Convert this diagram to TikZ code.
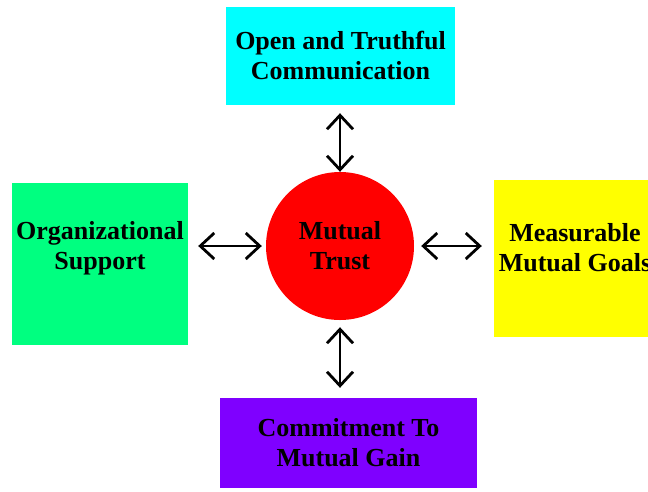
\documentclass[tikz,border=0pt]{standalone}
\usepackage{fontspec}
\setmainfont{Liberation Serif}
\usetikzlibrary{arrows.meta}
\usetikzlibrary{positioning}
\definecolor{commcyan}{RGB}{0,255,255}
\definecolor{orggreen}{RGB}{0,255,128}
\definecolor{trustred}{RGB}{255,0,0}
\definecolor{goalyellow}{RGB}{255,255,0}
\definecolor{gainviolet}{RGB}{127,0,255}

\begin{document}
\begin{tikzpicture}[x=1pt,y=-1pt,
                        every node/.style={font=\fontsize{26}{30}\selectfont\bfseries,
                                           align=center, inner sep=0pt},
                        link/.style={{Straight Barb[length=14pt,width=26pt]}-{Straight Barb[length=14pt,width=26pt]},
                                     line width=2.8pt},
                        ]
        \useasboundingbox (0,0) rectangle (648,491);
        \clip (0,0) rectangle (648,491);
        \node[fill=trustred, circle, minimum size=148pt] (trust) at (340,246) {Mutual\\Trust};
        \node[fill=commcyan, minimum width=229pt, minimum height=98pt] (comm) at (340.5,56)
            {Open and Truthful\\Communication};
        \node[fill=orggreen, minimum width=176pt, minimum height=162pt] (org) at (100,264) {};
        \node (orgtext) at ([yshift=16pt] org.center) {Organizational\\Support};
        \node[fill=goalyellow, minimum width=162pt, minimum height=157pt] (goals) at (575,258.5) {};
        \node (goalstext) at ([yshift=11pt] goals.center) {Measurable\\Mutual Goals};
        \node[fill=gainviolet, minimum width=257pt, minimum height=90pt] (gain) at (348.5,443)
            {Commitment To\\Mutual Gain};
        \draw[link, shorten <=8pt] (comm.south -| trust) -- (trust.north);
        \draw[link, shorten <=7pt, shorten >=10pt] (trust.south) -- (trust.south |- gain.north);
        \draw[link, shorten <=10pt, shorten >=4pt] (org.east |- trust) -- (trust.west);
        \draw[link, shorten <=7pt, shorten >=12pt] (trust.east) -- (trust.east -| goals.west);
    \end{tikzpicture}
\end{document}
